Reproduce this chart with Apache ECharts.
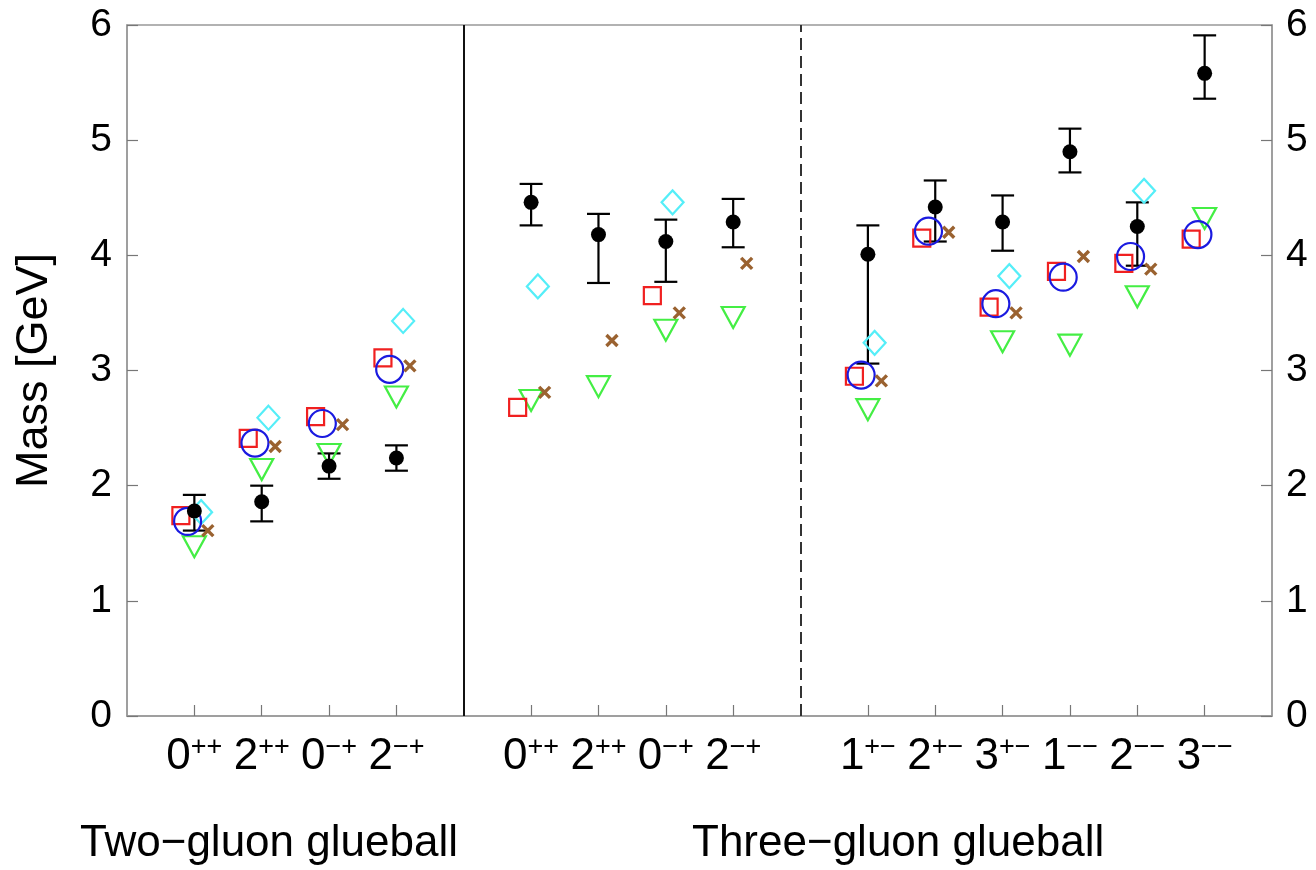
<!DOCTYPE html>
<html>
<head>
<meta charset="utf-8">
<title>Glueball masses</title>
<script src="https://cdn.jsdelivr.net/npm/echarts@6/dist/echarts.min.js"></script>
<style>
    html, body { margin: 0; padding: 0; background: #fff; }
    #chart { width: 1316px; height: 870px; }
</style>
</head>
<body>
<div id="chart"></div>
<script>
// x positions of the channels (5 and 10 are the separators)
var positions = [1, 2, 3, 4, 6, 7, 8, 9, 11, 12, 13, 14, 15, 16];
var tickLabels = ['0++', '2++', '0-+', '2-+', '0++', '2++', '0-+', '2-+', '1+-', '2+-', '3+-', '1--', '2--', '3--'];
var groupNames = ['Two\u2212gluon glueball', 'Three\u2212gluon glueball'];
var separators = [5, 10];

// lattice results with error bars (black dots)
var latticeMass = [1.78, 1.86, 2.17, 2.24, 4.46, 4.18, 4.12, 4.29, 4.01, 4.42, 4.29, 4.90, 4.25, 5.58];
var latticeHigh = [1.92, 2.00, 2.28, 2.35, 4.62, 4.36, 4.31, 4.49, 4.26, 4.65, 4.52, 5.10, 4.46, 5.91];
var latticeLow  = [1.61, 1.69, 2.06, 2.13, 4.26, 3.76, 3.77, 4.07, 3.06, 4.12, 4.04, 4.72, 3.91, 5.36];

// model predictions
var squareMass   = [1.74, 2.41, 2.60, 3.11, 2.68, null, 3.65, null, 2.95, 4.15, 3.55, 3.86, 3.93, 4.14];
var circleMass   = [1.69, 2.37, 2.54, 3.01, null, null, null, null, 2.96, 4.21, 3.58, 3.81, 3.99, 4.18];
var crossMass    = [1.61, 2.34, 2.53, 3.04, 2.81, 3.26, 3.50, 3.93, 2.91, 4.20, 3.50, 3.99, 3.88, null];
var diamondMass  = [1.77, 2.59, null, 3.43, 3.73, null, 4.46, null, 3.24, null, 3.82, null, 4.56, null];
var triangleMass = [1.47, 2.14, 2.27, 2.77, 2.74, 2.86, 3.35, 3.46, 2.66, null, 3.25, 3.22, 3.64, 4.32];

var FONT = '"Liberation Sans", Arial, Helvetica, sans-serif';
var AXIS_GRAY = '#999';

/**
 * 组装散点数据, offset 为同一通道内的水平错位
 */
function pointsOf(values, offset) {
    var data = [];
    for (var i = 0; i < positions.length; i++) {
        if (values[i] != null) {
            data.push([positions[i] + offset, values[i]]);
        }
    }
    return data;
}

function hollowSeries(name, values, offset, symbol, size, color, width, rotate) {
    return {
        name : name,
        type : 'scatter',
        symbol : symbol,
        symbolSize : size,
        symbolRotate : rotate || 0,
        itemStyle : {
            color : 'rgba(0,0,0,0)',
            borderColor : color,
            borderWidth : width,
            opacity : 1
        },
        data : pointsOf(values, offset),
        silent : true
    };
}

var errorData = [];
for (var i = 0; i < positions.length; i++) {
    errorData.push([positions[i], latticeLow[i], latticeHigh[i]]);
}

var xLabelMap = {};
for (var j = 0; j < positions.length; j++) {
    xLabelMap[positions[j]] = tickLabels[j];
}

var chart = echarts.init(document.getElementById('chart'), null, { renderer : 'canvas' });
var option = {
    animation : false,
    backgroundColor : '#fff',
    textStyle : { fontFamily : FONT },
    grid : {
        left : 127,
        right : 44,
        top : 25,
        bottom : 154,
        show : true,
        borderColor : AXIS_GRAY,
        borderWidth : 1.5
    },
    xAxis : {
        type : 'value',
        min : 0,
        max : 17,
        interval : 1,
        splitLine : { show : false },
        axisLine : { lineStyle : { color : AXIS_GRAY, width : 1.5 } },
        axisTick : {
            inside : true,
            length : 11,
            customValues : positions,
            lineStyle : { color : '#777', width : 1.2 }
        },
        axisLabel : {
            margin : 18,
            customValues : positions,
            formatter : function(v) {
                var t = xLabelMap[v];
                if (!t) {
                    return '';
                }
                return '{b|' + t.charAt(0) + '}{s|' + t.substring(1).replace(/-/g, '\u2212') + '}';
            },
            rich : {
                b : { fontSize : 44, lineHeight : 46, color : '#000', fontFamily : FONT },
                s : { fontSize : 27, lineHeight : 28, verticalAlign : 'top', color : '#000', fontFamily : FONT }
            }
        }
    },
    yAxis : [ {
        type : 'value',
        position : 'left',
        min : 0,
        max : 6,
        interval : 1,
        name : 'Mass [GeV]',
        nameLocation : 'middle',
        nameGap : 70,
        nameTextStyle : { fontSize : 45, color : '#000', fontFamily : FONT },
        splitLine : { show : false },
        axisLine : { show : true, lineStyle : { color : AXIS_GRAY, width : 1.5 } },
        axisTick : { inside : true, length : 11, lineStyle : { color : '#777', width : 1.2 } },
        axisLabel : { margin : 15, fontSize : 39, color : '#000', fontFamily : FONT }
    }, {
        type : 'value',
        position : 'right',
        min : 0,
        max : 6,
        interval : 1,
        splitLine : { show : false },
        axisLine : { show : true, lineStyle : { color : AXIS_GRAY, width : 1.5 } },
        axisTick : { inside : true, length : 11, lineStyle : { color : '#777', width : 1.2 } },
        axisLabel : { margin : 14, fontSize : 39, color : '#000', fontFamily : FONT }
    } ],
    graphic : [ {
        type : 'text',
        left : 80,
        top : 822,
        style : { text : groupNames[0], font : '44px ' + FONT, fill : '#000' }
    }, {
        type : 'text',
        left : 692,
        top : 822,
        style : { text : groupNames[1], font : '44px ' + FONT, fill : '#000' }
    } ],
    series : [
        hollowSeries('triangle', triangleMass, 0, 'triangle', [23, 21], '#44ee44', 2.2, 180),
        hollowSeries('diamond', diamondMass, 0.1, 'diamond', [22, 24], '#55eef8', 2.2),
        hollowSeries('square', squareMass, -0.2, 'rect', 17, '#f02020', 2.2),
        hollowSeries('circle', circleMass, -0.1, 'circle', 27, '#1a1ae0', 2.2),
        hollowSeries('cross', crossMass, 0.2, 'path://M0,0L10,10M10,0L0,10', 11, '#9a6230', 3.4),
        {
            name : 'errorbar',
            type : 'custom',
            silent : true,
            data : errorData,
            encode : { x : 0, y : [ 1, 2 ] },
            renderItem : function(params, api) {
                var lo = api.coord([ api.value(0), api.value(1) ]);
                var hi = api.coord([ api.value(0), api.value(2) ]);
                var cap = 11.5;
                var style = { stroke : '#000', lineWidth : 2.2 };
                return {
                    type : 'group',
                    children : [ {
                        type : 'line',
                        shape : { x1 : hi[0], y1 : hi[1], x2 : lo[0], y2 : lo[1] },
                        style : style
                    }, {
                        type : 'line',
                        shape : { x1 : hi[0] - cap, y1 : hi[1], x2 : hi[0] + cap, y2 : hi[1] },
                        style : style
                    }, {
                        type : 'line',
                        shape : { x1 : lo[0] - cap, y1 : lo[1], x2 : lo[0] + cap, y2 : lo[1] },
                        style : style
                    } ]
                };
            }
        },
        {
            name : 'lattice',
            type : 'scatter',
            symbol : 'circle',
            symbolSize : 15,
            itemStyle : { color : '#000', opacity : 1 },
            data : pointsOf(latticeMass, 0),
            silent : true,
            markLine : {
                silent : true,
                symbol : [ 'none', 'none' ],
                label : { show : false },
                data : [ {
                    xAxis : separators[0],
                    lineStyle : { color : '#111', width : 2, type : 'solid' }
                }, {
                    xAxis : separators[1],
                    lineStyle : { color : '#333', width : 2, type : [ 12, 6 ] }
                } ]
            }
        }
    ]
};
chart.setOption(option);
</script>
</body>
</html>
